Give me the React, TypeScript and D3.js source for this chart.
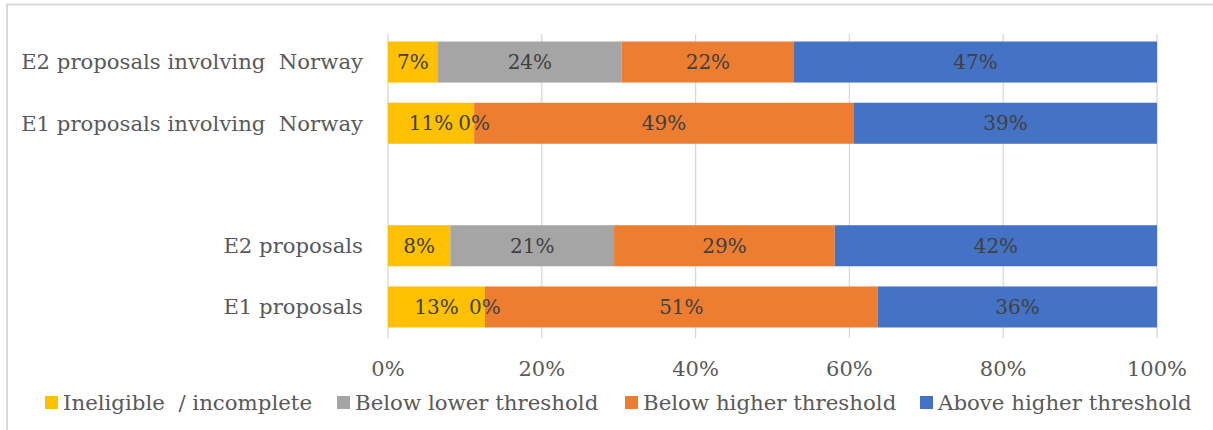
import React from "react";
import * as d3 from "d3";

const categories = [
  "E2 proposals involving  Norway",
  "E1 proposals involving  Norway",
  "",
  "E2 proposals",
  "E1 proposals",
];
const seriesNames = [
  "Ineligible  / incomplete",
  "Below lower threshold",
  "Below higher threshold",
  "Above higher threshold",
];
const ineligible = [6.5, 11.2, null, 8.1, 12.6];
const belowLower = [23.9, 0, null, 21.3, 0];
const belowHigher = [22.4, 49.4, null, 28.7, 51.1];
const aboveHigher = [47.2, 39.4, null, 41.9, 36.3];
const tickValues = [0, 20, 40, 60, 80, 100];
const colors = ["#FFC000", "#A5A5A5", "#ED7D31", "#4472C4"];

const W = 1213;
const H = 430;
const FONT = "'DejaVu Serif', Georgia, serif";
const LEGEND_X = [45, 337, 625, 920];

export default function App() {
  const x = d3.scaleLinear().domain([0, 100]).range([388, 1157]);
  const y = d3
    .scaleBand<string>()
    .domain(categories.map((c, i) => String(i)))
    .range([31.4, 337.6])
    .paddingInner(0.33)
    .paddingOuter(0.165);

  const rows = categories.map((c, i) => ({
    cat: c,
    key: String(i),
    vals: [ineligible[i], belowLower[i], belowHigher[i], aboveHigher[i]],
  }));

  const stackData = rows
    .filter((r) => r.vals[0] !== null)
    .map((r) => {
      const o: any = { key: r.key };
      r.vals.forEach((v, j) => (o["s" + j] = v as number));
      return o;
    });
  const stack = d3.stack<any>().keys(["s0", "s1", "s2", "s3"]);
  const layers = stack(stackData);

  return (
    <svg width={W} height={H} style={{ position: "absolute", left: 0, top: 0 }}>
      <rect x={0} y={0} width={W} height={H} fill="#fff" />
      <line x1={6} x2={W} y1={4.5} y2={4.5} stroke="#d9d9d9" strokeWidth={2} />
      <line x1={7} x2={7} y1={4} y2={H} stroke="#d9d9d9" strokeWidth={2} />
      {tickValues.map((t) => (
        <line
          key={"g" + t}
          x1={x(t)}
          x2={x(t)}
          y1={34}
          y2={338}
          stroke="#d9d9d9"
          strokeWidth={1.3}
        />
      ))}
      {layers.map((layer, li) =>
        layer.map((d: any) => (
          <rect
            key={li + "-" + d.data.key}
            x={x(d[0])}
            width={Math.max(0, x(d[1]) - x(d[0]))}
            y={y(d.data.key)}
            height={y.bandwidth()}
            fill={colors[li]}
          />
        ))
      )}
      {layers.map((layer, li) =>
        layer.map((d: any) => (
          <text
            key={"t" + li + "-" + d.data.key}
            x={(x(d[0]) + x(d[1])) / 2}
            y={(y(d.data.key) as number) + y.bandwidth() / 2}
            dy="0.35em"
            textAnchor="middle"
            fontFamily={FONT}
            fontSize={20}
            fill="#404040"
          >
            {Math.round(d[1] - d[0])}%
          </text>
        ))
      )}
      {rows.map((r) =>
        r.cat ? (
          <text
            key={"c" + r.key}
            x={363}
            y={(y(r.key) as number) + y.bandwidth() / 2}
            dy="0.35em"
            textAnchor="end"
            fontFamily={FONT}
            fontSize={21.2}
            fill="#595959"
            style={{ whiteSpace: "pre" }}
          >
            {r.cat}
          </text>
        ) : null
      )}
      {tickValues.map((t) => (
        <text
          key={"x" + t}
          x={x(t)}
          y={369}
          dy="0.35em"
          textAnchor="middle"
          fontFamily={FONT}
          fontSize={21}
          fill="#595959"
        >
          {t}%
        </text>
      ))}
      {seriesNames.map((s, i) => (
        <g key={"l" + i}>
          <rect x={LEGEND_X[i]} y={396} width={13} height={13} fill={colors[i]} />
          <text
            x={LEGEND_X[i] + 18}
            y={403}
            dy="0.35em"
            fontFamily={FONT}
            fontSize={21.3}
            fill="#595959"
            style={{ whiteSpace: "pre" }}
          >
            {s}
          </text>
        </g>
      ))}
    </svg>
  );
}
